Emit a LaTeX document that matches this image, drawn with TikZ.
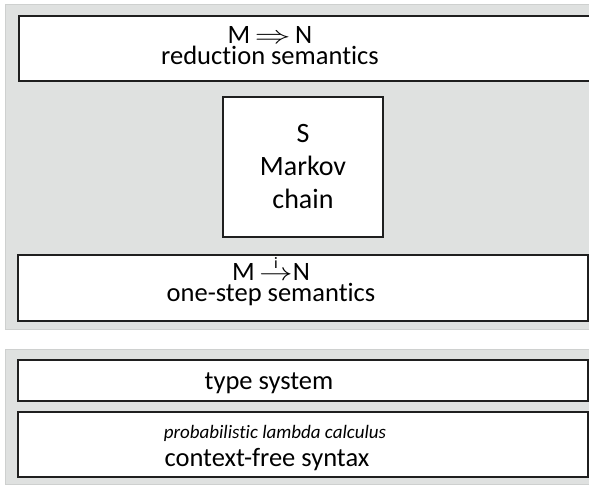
\documentclass[tikz,border=0pt]{standalone}
\usepackage{amsmath}
\usepackage{graphicx}
\usepackage{fontspec}
\setmainfont{Carlito}[Ligatures={NoCommon}]
\definecolor{panelgray}{RGB}{223,225,224}
\definecolor{panelline}{RGB}{206,208,207}
\begin{document}
\begin{tikzpicture}[x=1pt,y=-1pt,
  panel/.style={fill=panelgray,draw=panelline,line width=0.8pt,anchor=north west,inner sep=0pt,outer sep=0pt},
  box/.style={draw=black!88,fill=white,line width=1.4pt,anchor=north west,inner sep=0pt,outer sep=0pt},
  lbl/.style={anchor=base,inner sep=0pt,font=\fontsize{26.5}{26.5}\selectfont},
  mlbl/.style={anchor=base,inner sep=0pt,font=\fontsize{28}{28}\selectfont},
  slbl/.style={anchor=base,inner sep=0pt,font=\fontsize{19}{19}\selectfont\itshape}]
\useasboundingbox (0,0) rectangle (589,485);
\clip (0,0) rectangle (589,485);
\fill[white] (0,0) rectangle (589,485);
% panels
\node[panel, minimum width=600pt, minimum height=325pt] (p1) at (5,4) {};
\node[panel, minimum width=600pt, minimum height=135pt] (p2) at (5,349) {};
% boxes
\node[box, minimum width=600pt, minimum height=65pt] (red) at (19,16) {};
\node[box, minimum width=160pt, minimum height=140pt] (mc) at (223,97) {};
\node[box, minimum width=570pt, minimum height=66pt] (one) at (18,255) {};
\node[box, minimum width=570pt, minimum height=41pt] (ts) at (18,360) {};
\node[box, minimum width=570pt, minimum height=65pt] (cf) at (18,412) {};
% texts
\node[lbl] (t1) at (270,43) {M\,\scalebox{1.45}[1]{$\Rightarrow$}\,N};
\node[lbl] (t2) at (270,64) {reduction semantics};
\node[mlbl] (s1) at (303,142) {S};
\node[mlbl] (s2) at (303,175) {Markov};
\node[mlbl] (s3) at (303,208) {chain};
\node[lbl] (t3) at (271,280) {M\,$\overset{\raisebox{-4pt}{\fontsize{16}{16}\selectfont i}}{\scalebox{1.35}[1]{$\rightarrow$}}$N};
\node[lbl] (t4) at (271,301) {one-step semantics};
\node[lbl] (t5) at (269,389) {type system};
\node[slbl] (t6) at (275,438) {probabilistic lambda calculus};
\node[lbl] (t7) at (267,466) {context-free syntax};
\end{tikzpicture}
\end{document}
